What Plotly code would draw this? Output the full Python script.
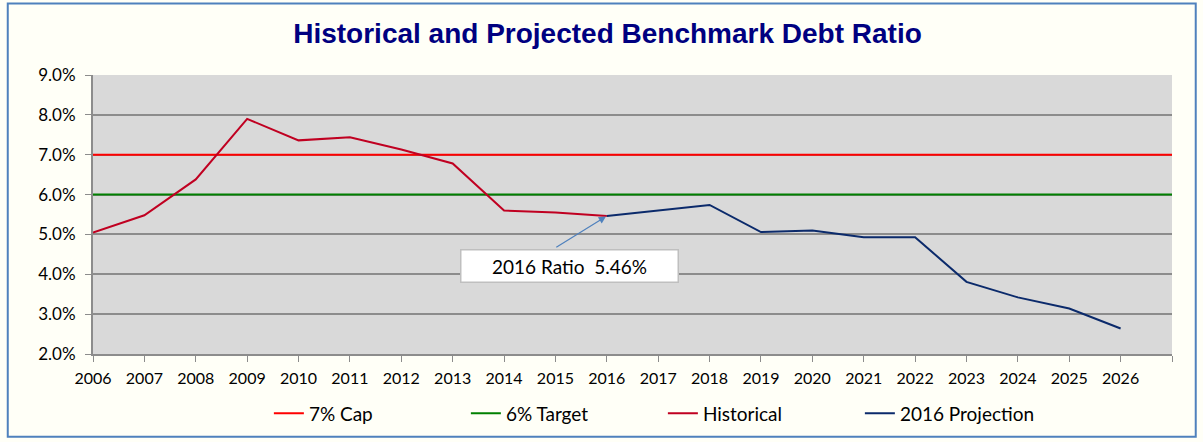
import plotly.graph_objects as go

# Data
hist_years = [2006, 2007, 2008, 2009, 2010, 2011, 2012, 2013, 2014, 2015, 2016]
hist_ratio = [5.05, 5.48, 6.38, 7.90, 7.36, 7.44, 7.13, 6.78, 5.60, 5.55, 5.46]

proj_years = [2016, 2017, 2018, 2019, 2020, 2021, 2022, 2023, 2024, 2025, 2026]
proj_ratio = [5.46, 5.60, 5.74, 5.06, 5.10, 4.93, 4.93, 3.81, 3.42, 3.14, 2.64]

axis_years = list(range(2006, 2028))
tick_labels = [str(y) for y in range(2006, 2027)] + [""]

CAP = 7.0
TARGET = 6.0
RATIO_2016 = 5.46

FONT = "Lato, 'Noto Sans', sans-serif"

fig = go.Figure()

fig.add_trace(go.Scatter(
    x=axis_years, y=[CAP] * len(axis_years), mode="lines",
    line=dict(color="#FF0000", width=2), name="7% Cap", hoverinfo="skip"
))
fig.add_trace(go.Scatter(
    x=axis_years, y=[TARGET] * len(axis_years), mode="lines",
    line=dict(color="#008000", width=2), name="6% Target", hoverinfo="skip"
))
fig.add_trace(go.Scatter(
    x=hist_years, y=hist_ratio, mode="lines",
    line=dict(color="#C00021", width=2), name="Historical"
))
fig.add_trace(go.Scatter(
    x=proj_years, y=proj_ratio, mode="lines",
    line=dict(color="#0B2A6B", width=2), name="2016 Projection"
))

# callout box + arrow
fig.add_annotation(
    x=2015.28, y=4.22, xref="x", yref="y", text="2016 Ratio  5.46%",
    showarrow=False, bgcolor="white", bordercolor="#BFBFBF", borderwidth=1.5,
    width=214, height=29, font=dict(family=FONT, size=19, color="black")
)
fig.add_annotation(
    x=2016, y=RATIO_2016, xref="x", yref="y", text="",
    showarrow=True, ax=-52, ay=32, arrowhead=2, arrowsize=1.2,
    arrowwidth=1.2, arrowcolor="#4F81BD", standoff=1
)

# outer chart border
fig.add_shape(
    type="rect", xref="paper", yref="paper",
    x0=-0.079, x1=1.022, y0=-0.297, y1=1.256,
    line=dict(color="#4F81BD", width=2), fillcolor="rgba(0,0,0,0)"
)

fig.update_layout(
    width=1203, height=442,
    margin=dict(l=93, r=31, t=75, b=88, autoexpand=False),
    paper_bgcolor="#FFFFF7",
    plot_bgcolor="#D9D9D9",
    title=dict(
        text="<b>Historical and Projected Benchmark Debt Ratio</b>",
        x=0.505, xanchor="center", xref="container",
        y=0.925, yanchor="middle", yref="container",
        font=dict(family="Arial, 'Liberation Sans', sans-serif", size=28, color="#000080")
    ),
    font=dict(family=FONT, size=16, color="black"),
    showlegend=True,
    legend=dict(
        orientation="h", x=0.163, xanchor="left", y=-0.145, yanchor="top",
        bgcolor="rgba(0,0,0,0)", font=dict(family=FONT, size=19),
        entrywidth=152, entrywidthmode="pixels"
    ),
    xaxis=dict(
        range=[2006, 2027], tickvals=axis_years, ticktext=tick_labels,
        showgrid=False, zeroline=False, showline=True, linecolor="#8C8C8C",
        linewidth=2, ticks="outside", ticklen=6, tickcolor="#8C8C8C",
        ticklabelstandoff=3, tickfont=dict(family=FONT, size=16), automargin=False
    ),
    yaxis=dict(
        range=[2, 9], dtick=1, tickformat=".1f", ticksuffix="%",
        showgrid=True, gridcolor="#8C8C8C", gridwidth=2,
        zeroline=False, showline=True, linecolor="#8C8C8C", linewidth=2,
        ticks="outside", ticklen=6, tickcolor="#8C8C8C", ticklabelstandoff=6,
        tickfont=dict(family=FONT, size=17), automargin=False
    ),
)

fig.write_html("out.html", config={"displayModeBar": False},
               post_script="document.body.style.margin='0';")
